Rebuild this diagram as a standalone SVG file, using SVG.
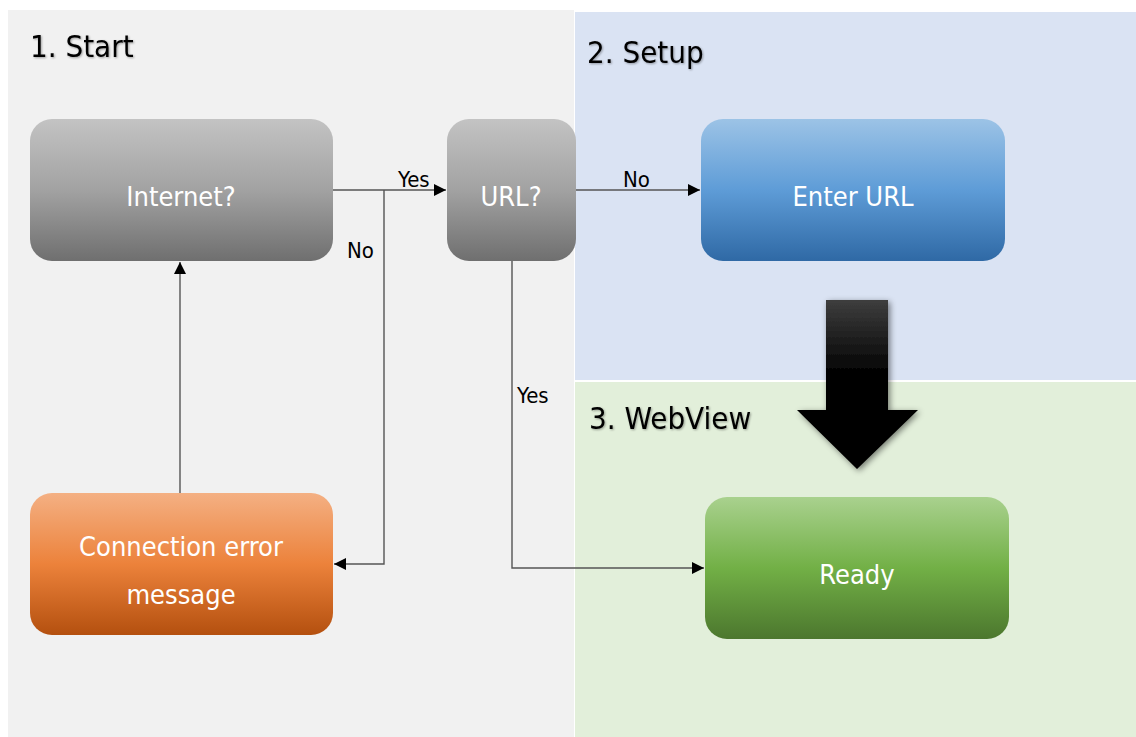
<svg xmlns="http://www.w3.org/2000/svg" width="1136" height="737" viewBox="0 0 1136 737">
<style>
.t{font-family:"DejaVu Sans Condensed","DejaVu Sans",sans-serif;font-stretch:condensed}
.title{font-size:31px;fill:#000}
.lbl{font-size:27px;fill:#fff;text-anchor:middle}
.el{font-size:22px;fill:#000}
.c{fill:none;stroke:#555;stroke-width:1.4}
</style>
<defs>
<linearGradient id="gGray" x1="0" y1="0" x2="0" y2="1"><stop offset="0" stop-color="#c3c3c3"/><stop offset="0.5" stop-color="#a2a2a2"/><stop offset="1" stop-color="#6f6f6f"/></linearGradient>
<linearGradient id="gBlue" x1="0" y1="0" x2="0" y2="1"><stop offset="0" stop-color="#9cc3e6"/><stop offset="0.5" stop-color="#5e9cd7"/><stop offset="1" stop-color="#2f69a5"/></linearGradient>
<linearGradient id="gOr" x1="0" y1="0" x2="0" y2="1"><stop offset="0" stop-color="#f4b083"/><stop offset="0.5" stop-color="#ec823b"/><stop offset="1" stop-color="#b4500f"/></linearGradient>
<linearGradient id="gGr" x1="0" y1="0" x2="0" y2="1"><stop offset="0" stop-color="#a9d18e"/><stop offset="0.5" stop-color="#72b046"/><stop offset="1" stop-color="#4c772e"/></linearGradient>
<linearGradient id="gBk" gradientUnits="userSpaceOnUse" x1="0" y1="300" x2="0" y2="469"><stop offset="0" stop-color="#3e3e3e"/><stop offset="0.45" stop-color="#000"/><stop offset="1" stop-color="#000"/></linearGradient>
<filter id="sh" x="-20%" y="-20%" width="140%" height="140%"><feGaussianBlur in="SourceAlpha" stdDeviation="3"/><feOffset dx="2" dy="2"/><feComponentTransfer><feFuncA type="linear" slope="0.5"/></feComponentTransfer><feMerge><feMergeNode/><feMergeNode in="SourceGraphic"/></feMerge></filter>
<filter id="tsh" x="-10%" y="-30%" width="120%" height="160%"><feGaussianBlur in="SourceAlpha" stdDeviation="1"/><feOffset dx="1" dy="1"/><feComponentTransfer><feFuncA type="linear" slope="0.35"/></feComponentTransfer><feMerge><feMergeNode/><feMergeNode in="SourceGraphic"/></feMerge></filter>
<marker id="ah" viewBox="0 0 12 12" refX="12" refY="6" markerWidth="12" markerHeight="12" markerUnits="userSpaceOnUse" orient="auto"><path d="M0,0 L12,6 L0,12 z" fill="#000"/></marker>
</defs>
<rect width="1136" height="737" fill="#fff"/>
<g id="panels">
<rect x="8" y="10" width="566" height="727" fill="#f1f1f1"/>
<rect x="575" y="12" width="561" height="368" fill="#dae3f3"/>
<rect x="575" y="382" width="561" height="355" fill="#e2efda"/>
<text class="t title" x="30" y="57" filter="url(#tsh)">1. Start</text>
<text class="t title" x="587" y="63" filter="url(#tsh)">2. Setup</text>
<text class="t title" x="589" y="429" filter="url(#tsh)">3. WebView</text>
</g>
<g id="connectors">
<path class="c" d="M333,190 H446" marker-end="url(#ah)"/>
<path class="c" d="M384,190 V564 H334" marker-end="url(#ah)"/>
<path class="c" d="M576,190 H700" marker-end="url(#ah)"/>
<path class="c" d="M512,261 V568 H704" marker-end="url(#ah)"/>
<path class="c" d="M180,493 V262" marker-end="url(#ah)"/>
<text class="t el" x="398" y="187">Yes</text>
<text class="t el" x="347" y="258">No</text>
<text class="t el" x="623" y="187">No</text>
<text class="t el" x="517" y="403">Yes</text>
</g>
<g id="bigArrow">
<path d="M826,300 H888 V410 H918 L857,469 L797,410 H826 Z" fill="url(#gBk)" filter="url(#sh)"/>
</g>
<g id="internet">
<rect x="30" y="119" width="303" height="142" rx="22" fill="url(#gGray)"/>
<text class="t lbl" x="181" y="206">Internet?</text>
</g>
<g id="url">
<rect x="447" y="119" width="129" height="142" rx="22" fill="url(#gGray)"/>
<text class="t lbl" x="511" y="206">URL?</text>
</g>
<g id="enterUrl">
<rect x="701" y="119" width="304" height="142" rx="22" fill="url(#gBlue)"/>
<text class="t lbl" x="853" y="206">Enter URL</text>
</g>
<g id="connError">
<rect x="30" y="493" width="303" height="142" rx="22" fill="url(#gOr)"/>
<text class="t lbl" x="181" y="556">Connection error</text>
<text class="t lbl" x="181" y="604">message</text>
</g>
<g id="ready">
<rect x="705" y="497" width="304" height="142" rx="22" fill="url(#gGr)"/>
<text class="t lbl" x="857" y="584">Ready</text>
</g>
</svg>
